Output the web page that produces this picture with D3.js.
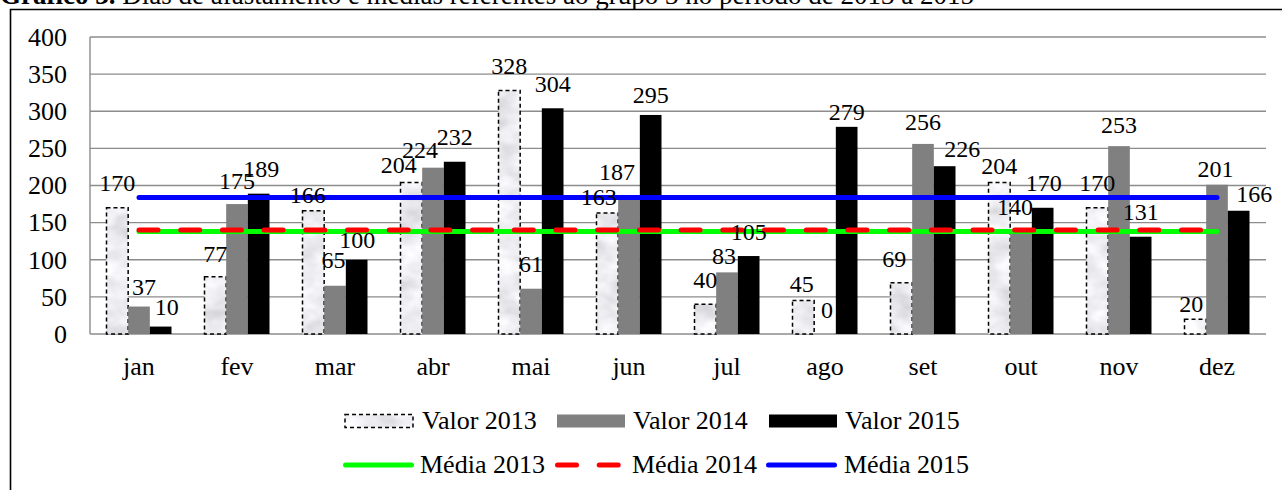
<!DOCTYPE html>
<html>
<head>
<meta charset="utf-8">
<script src="https://cdn.jsdelivr.net/npm/d3@7"></script>
<style>
  html, body { margin: 0; padding: 0; background: #fff; }
  svg { display: block; }
</style>
</head>
<body>
<svg id="chart" width="1282" height="490" font-family="Liberation Serif"></svg>
<script>
// Monthly sick-leave days (dias de afastamento) for group 3, 2013-2015
const months = ["jan", "fev", "mar", "abr", "mai", "jun", "jul", "ago", "set", "out", "nov", "dez"];
const valor2013 = [170, 77, 166, 204, 328, 163, 40, 45, 69, 204, 170, 20];
const valor2014 = [37, 175, 65, 224, 61, 187, 83, 0, 256, 140, 253, 201];
const valor2015 = [10, 189, 100, 232, 304, 295, 105, 279, 226, 170, 131, 166];
// yearly averages, drawn as horizontal lines
const media2013 = [138];
const media2014 = [140];
const media2015 = [184];
const yTicks = [0, 50, 100, 150, 200, 250, 300, 350, 400];
const seriesKeys = ["2013", "2014", "2015"];

// hand-placed data label nudges (dx, dy from the default spot above the bar)
const labelNudge = {
  "2013": [[0, 0], [0, 1.5], [-5.5, 9], [-12.5, 7], [0, 0], [-8.5, 8.5], [0, 0], [-1.5, 7.5], [-7, 1], [0, 8], [0, 0], [-4, 9]],
  "2014": [[5, 5], [0, 1], [-1.5, -1], [-13, 6.5], [0, 0], [-12, 1.5], [-3, 8.5], [2, 0], [0, 2.5], [-6, 1.5], [0, 3.5], [-1.5, 9]],
  "2015": [[6, 5], [2.5, -0.5], [0.5, 4.5], [0, 0], [0, 0], [0, 5], [0, 0.5], [0, 9.5], [17.5, 7], [1, -0.5], [0, 0], [15.5, 7.5]]
};

const svg = d3.select("#chart");
const FONT = "Liberation Serif";
const W = 1282, H = 490;
const plot = { left: 90, right: 1266, top: 37, bottom: 334 };
const gridColor = "#8c8c8c";

// marble-like light texture for the 2013 bars
const defs = svg.append("defs");
const filt = defs.append("filter").attr("id", "marbleNoise")
  .attr("x", 0).attr("y", 0).attr("width", 1).attr("height", 1);
filt.append("feTurbulence").attr("type", "fractalNoise")
  .attr("baseFrequency", "0.035 0.05").attr("numOctaves", 3).attr("seed", 7);
filt.append("feColorMatrix").attr("type", "matrix")
  .attr("values", "0.5 0 0 0 0.6  0.5 0 0 0 0.6  0.5 0 0 0 0.63  0 0 0 0 1");
const pat = defs.append("pattern").attr("id", "marble")
  .attr("patternUnits", "userSpaceOnUse").attr("width", W).attr("height", H);
pat.append("rect").attr("width", W).attr("height", H).attr("filter", "url(#marbleNoise)");

// title (runs above the top edge of the page)
const title = svg.append("text").attr("x", 0).attr("y", 4)
  .attr("font-family", FONT).attr("font-size", 27).attr("fill", "#000");
title.append("tspan").attr("font-weight", "bold").text("Gráfico 3.");
title.append("tspan").text(" Dias de afastamento e médias referentes ao grupo 3 no período de 2013 a 2015");

// outer chart frame
svg.append("path")
  .attr("d", `M10.5,${H} L10.5,9.5 L${W},9.5`)
  .attr("fill", "none").attr("stroke", "#000").attr("stroke-width", 1.6);

// scales
const gap = 33 / 98;
const x = d3.scaleBand().domain(months).range([plot.left, plot.right])
  .paddingInner(gap).paddingOuter(gap / 2);
const xs = d3.scaleBand().domain(seriesKeys).range([0, x.bandwidth()]);
const y = d3.scaleLinear().domain([0, 400]).range([plot.bottom, plot.top]);
const xc = m => x(m) + x.bandwidth() / 2;

// gridlines
svg.append("g").selectAll("line").data(yTicks).join("line")
  .attr("x1", plot.left).attr("x2", plot.right)
  .attr("y1", d => y(d)).attr("y2", d => y(d))
  .attr("stroke", gridColor).attr("stroke-width", 1.4);
svg.append("line")
  .attr("x1", plot.left).attr("x2", plot.left)
  .attr("y1", y(400)).attr("y2", y(0))
  .attr("stroke", gridColor).attr("stroke-width", 1.4);

// y axis labels
svg.append("g").attr("font-family", FONT).selectAll("text").data(yTicks).join("text")
  .attr("x", 67).attr("y", d => y(d)).attr("dy", "0.34em")
  .attr("text-anchor", "end").attr("font-size", 26).text(d => d);

// x axis labels
svg.append("g").attr("font-family", FONT).selectAll("text").data(months).join("text")
  .attr("x", m => xc(m)).attr("y", 375)
  .attr("text-anchor", "middle").attr("font-size", 26).text(m => m);

// bars
const series = [
  { key: "2013", values: valor2013 },
  { key: "2014", values: valor2014 },
  { key: "2015", values: valor2015 }
];
const barStyle = {
  "2013": { fill: "url(#marble)", stroke: "#000", dash: "4,3" },
  "2014": { fill: "#808080", stroke: "none", dash: null },
  "2015": { fill: "#000000", stroke: "none", dash: null }
};
const gBars = svg.append("g");
series.forEach(s => {
  const st = barStyle[s.key];
  gBars.append("g").selectAll("rect").data(s.values).join("rect")
    .attr("x", (d, i) => x(months[i]) + xs(s.key))
    .attr("y", d => y(d))
    .attr("width", xs.bandwidth())
    .attr("height", d => y(0) - y(d))
    .attr("fill", st.fill)
    .attr("stroke", st.stroke)
    .attr("stroke-width", st.stroke === "none" ? 0 : 1.5)
    .attr("stroke-dasharray", st.dash);
});

// average lines across the months
const lineGen = d3.line().x(d => xc(d.m)).y(d => y(d.v));
const meanLines = [
  { vals: media2013, color: "#00ff00", dash: null, width: 5 },
  { vals: media2014, color: "#ff0000", dash: "19,22.7", width: 5 },
  { vals: media2015, color: "#0000ff", dash: null, width: 5 }
];
meanLines.forEach(l => {
  const pts = months.map(m => ({ m, v: l.vals[0] }));
  svg.append("path").attr("d", lineGen(pts))
    .attr("fill", "none").attr("stroke", l.color)
    .attr("stroke-width", l.width).attr("stroke-linecap", "round")
    .attr("stroke-dasharray", l.dash);
});

// data labels
const gLab = svg.append("g").attr("font-family", FONT).attr("font-size", 24).attr("text-anchor", "middle");
series.forEach(s => {
  gLab.append("g").selectAll("text").data(s.values).join("text")
    .attr("x", (d, i) => x(months[i]) + xs(s.key) + xs.bandwidth() / 2 + labelNudge[s.key][i][0])
    .attr("y", (d, i) => y(d) - 16.5 + labelNudge[s.key][i][1])
    .text(d => d);
});

// legend
const leg = svg.append("g").attr("font-family", FONT).attr("font-size", 26);
const row1 = 421, row2 = 465;
const barLegend = [
  { key: "2013", x: 345, tx: 422, label: "Valor 2013" },
  { key: "2014", x: 557, tx: 633, label: "Valor 2014" },
  { key: "2015", x: 769, tx: 845, label: "Valor 2015" }
];
barLegend.forEach(b => {
  const st = barStyle[b.key];
  leg.append("rect").attr("x", b.x).attr("y", row1 - 6.5).attr("width", 68).attr("height", 13)
    .attr("fill", st.fill).attr("stroke", st.stroke)
    .attr("stroke-width", st.stroke === "none" ? 0 : 1.5)
    .attr("stroke-dasharray", st.dash);
  leg.append("text").attr("x", b.tx).attr("y", row1 + 8).text(b.label);
});
const lineLegend = [
  { line: meanLines[0], x: 345.5, tx: 420, label: "Média 2013" },
  { line: meanLines[1], x: 557.5, tx: 632, label: "Média 2014" },
  { line: meanLines[2], x: 768.5, tx: 844, label: "Média 2015" }
];
lineLegend.forEach(l => {
  leg.append("line").attr("x1", l.x).attr("x2", l.x + 66).attr("y1", row2).attr("y2", row2)
    .attr("stroke", l.line.color).attr("stroke-width", l.line.width)
    .attr("stroke-linecap", "round").attr("stroke-dasharray", l.line.dash);
  leg.append("text").attr("x", l.tx).attr("y", row2 + 8).text(l.label);
});
</script>
</body>
</html>
